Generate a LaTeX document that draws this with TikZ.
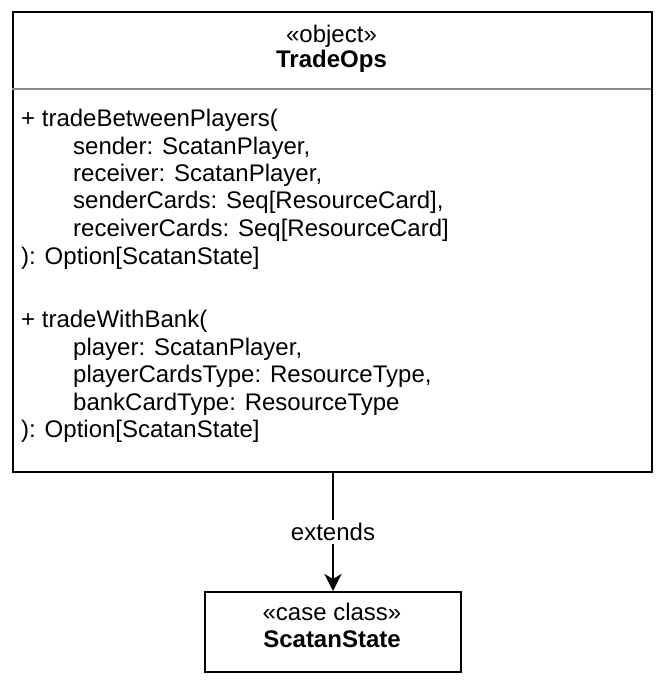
\documentclass[tikz,border=0pt]{standalone}
\usepackage{fontspec}
\setmainfont{Liberation Sans}
\usetikzlibrary{arrows.meta}
\begin{document}
\begin{tikzpicture}[x=1pt,y=-1pt,
  txt/.style={inner sep=0pt, font=\fontsize{24}{28}\selectfont},
  btxt/.style={inner sep=0pt, font=\fontsize{24}{28}\selectfont\bfseries},
  umlbox/.style={draw=black, line width=2pt, inner sep=0pt, anchor=north west},
  sepline/.style={draw=black!45, line width=1.6pt},
  conn/.style={draw=black, line width=2pt, -{Stealth[length=17pt,width=17pt,inset=5pt]}},
  lbl/.style={fill=white, inner sep=3pt, font=\fontsize{24}{28}\selectfont}]
\useasboundingbox (0,0) rectangle (662,682);
% main object box
\node[umlbox, minimum width=639pt, minimum height=459.5pt] (obj) at (12,11) {};
\coordinate (sepL) at (12,89);
\coordinate (sepR) at (651,89);
\draw[sepline] (sepL) -- (sepR);
\node[txt, anchor=base] (stereo) at (331.5,43) {«object»};
\node[btxt, anchor=base] (title) at (331.5,68) {TradeOps};
% operations
\node[txt, anchor=base west] (l1) at (21,126) {+ tradeBetweenPlayers(};
\node[txt, anchor=base west] (l2) at (73,154) {sender: ScatanPlayer,};
\node[txt, anchor=base west] (l3) at (73,181) {receiver: ScatanPlayer,};
\node[txt, anchor=base west] (l4) at (73,208) {senderCards: Seq[ResourceCard],};
\node[txt, anchor=base west] (l5) at (73,236) {receiverCards: Seq[ResourceCard]};
\node[txt, anchor=base west] (l6) at (21,264) {): Option[ScatanState]};
\node[txt, anchor=base west] (m1) at (21,327) {+ tradeWithBank(};
\node[txt, anchor=base west] (m2) at (73,355) {player: ScatanPlayer,};
\node[txt, anchor=base west] (m3) at (73,382) {playerCardsType: ResourceType,};
\node[txt, anchor=base west] (m4) at (73,410) {bankCardType: ResourceType};
\node[txt, anchor=base west] (m5) at (21,437) {): Option[ScatanState]};
% case class box
\node[umlbox, minimum width=256pt, minimum height=79.5pt] (st) at (204,591) {};
\node[txt, anchor=base] (st1) at (332,620) {«case class»};
\node[btxt, anchor=base] (st2) at (332,647) {ScatanState};
% connector
\draw[conn] (obj.south -| st.north) -- node[lbl, pos=0.5] (ext) {extends} (st.north);
\end{tikzpicture}
\end{document}
